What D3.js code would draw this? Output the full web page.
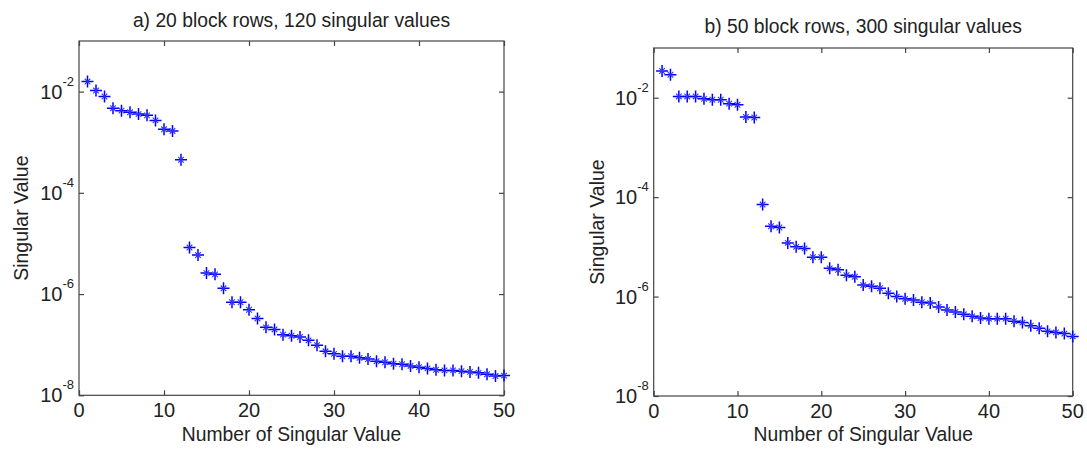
<!DOCTYPE html>
<html>
<head>
<meta charset="utf-8">
<script src="https://cdn.jsdelivr.net/npm/d3@7/dist/d3.min.js"></script>
<style>
  html, body { margin: 0; padding: 0; background: #fff; }
  svg { display: block; }
  text { font-family: "Liberation Sans", Arial, sans-serif; fill: #222; }
</style>
</head>
<body>
<svg id="chart" width="1087" height="450"></svg>
<script>
// ---- data ----
const indexValues = d3.range(1, 51);
const leftTitle = "a) 20 block rows, 120 singular values";
const rightTitle = "b) 50 block rows, 300 singular values";
const xLabel = "Number of Singular Value";
const yLabel = "Singular Value";
const xTicks = [0, 10, 20, 30, 40, 50];
const yTickExponents = [-2, -4, -6, -8];

const leftValues = [0.0158, 0.0105, 0.0080, 0.0047, 0.0042, 0.0039, 0.0036, 0.0034, 0.0027, 0.0018,
  0.00167, 0.00045, 8.3e-6, 5.9e-6, 2.6e-6, 2.45e-6, 1.3e-6, 6.9e-7, 6.9e-7, 4.9e-7,
  3.3e-7, 2.2e-7, 2.0e-7, 1.58e-7, 1.5e-7, 1.42e-7, 1.22e-7, 9.8e-8, 7.4e-8, 6.6e-8,
  5.9e-8, 5.9e-8, 5.5e-8, 5.2e-8, 4.7e-8, 4.5e-8, 4.2e-8, 4.1e-8, 3.8e-8, 3.6e-8,
  3.4e-8, 3.2e-8, 3.1e-8, 3.1e-8, 3.0e-8, 2.9e-8, 2.78e-8, 2.6e-8, 2.4e-8, 2.45e-8];

const rightValues = [0.0345, 0.029, 0.0106, 0.0106, 0.0106, 0.0095, 0.0091, 0.0091, 0.0076, 0.0072,
  0.0041, 0.0040, 7.1e-5, 2.6e-5, 2.45e-5, 1.2e-5, 1.0e-5, 9.3e-6, 6.2e-6, 6.2e-6,
  3.7e-6, 3.45e-6, 2.7e-6, 2.5e-6, 1.7e-6, 1.62e-6, 1.47e-6, 1.17e-6, 1.0e-6, 9.0e-7,
  8.5e-7, 7.7e-7, 7.4e-7, 6.2e-7, 5.4e-7, 4.9e-7, 4.4e-7, 4.0e-7, 3.7e-7, 3.6e-7,
  3.6e-7, 3.6e-7, 3.2e-7, 3.0e-7, 2.6e-7, 2.3e-7, 2.0e-7, 1.9e-7, 1.8e-7, 1.58e-7];

// ---- drawing ----
const svg = d3.select("#chart");

function panel(cfg) {
  const {left, right, top, bottom, title, titleY, values, ylabX} = cfg;
  const x = d3.scaleLinear().domain([0, 50]).range([left, right]);
  const y = d3.scaleLog().domain([1e-8, 1e-1]).range([bottom, top]);
  const g = svg.append("g");
  const axisColor = "#444";

  // frame
  g.append("rect").attr("x", left).attr("y", top)
    .attr("width", right - left).attr("height", bottom - top)
    .attr("fill", "none").attr("stroke", axisColor).attr("stroke-width", 1.2);

  const yTickVals = yTickExponents.map(e => Math.pow(10, e));

  // axes with inward ticks
  const ax = [
    {a: d3.axisBottom(x).tickValues(xTicks), t: `translate(0,${bottom})`},
    {a: d3.axisTop(x).tickValues(xTicks), t: `translate(0,${top})`},
    {a: d3.axisLeft(y).tickValues(yTickVals), t: `translate(${left},0)`},
    {a: d3.axisRight(y).tickValues(yTickVals), t: `translate(${right},0)`}
  ];
  ax.forEach(d => {
    const ag = g.append("g").attr("transform", d.t)
      .call(d.a.tickSizeInner(-5).tickSizeOuter(0).tickFormat(""));
    ag.select(".domain").remove();
    ag.selectAll("line").attr("stroke", axisColor).attr("stroke-width", 1.2);
  });

  // x tick labels
  g.selectAll(".xt").data(xTicks).enter().append("text")
    .attr("x", d => x(d)).attr("y", bottom + 22)
    .attr("text-anchor", "middle").style("font-size", "20px")
    .text(d => d);

  // y tick labels with superscripts
  yTickExponents.forEach(e => {
    const yy = y(Math.pow(10, e));
    const t = g.append("text").attr("x", left - 5).attr("y", yy + 7)
      .attr("text-anchor", "end").style("font-size", "20px");
    t.append("tspan").text("10");
    t.append("tspan").attr("dy", -13).style("font-size", "13px").text(String(e));
  });

  // title
  g.append("text").attr("x", (left + right) / 2).attr("y", titleY)
    .attr("text-anchor", "middle").style("font-size", "19.3px").text(title);

  // x label
  g.append("text").attr("x", (left + right) / 2).attr("y", 441)
    .attr("text-anchor", "middle").style("font-size", "19.3px").text(xLabel);

  // y label
  g.append("text")
    .attr("transform", `translate(${ylabX},${(top + bottom) / 2}) rotate(-90)`)
    .attr("text-anchor", "middle").style("font-size", "19.5px").text(yLabel);

  // asterisk markers: strong plus with short faint diagonals
  const pts = g.selectAll(".pt").data(values).enter().append("g")
    .attr("transform", (d, i) => `translate(${x(indexValues[i])},${y(d)})`);
  pts.append("path").attr("d", "M-6,0H6M0,-6V6")
    .attr("fill", "none").attr("stroke", "#0000ff").attr("stroke-width", 1.5);
  pts.append("path").attr("d", "M-2.8,-2.8L2.8,2.8M-2.8,2.8L2.8,-2.8")
    .attr("fill", "none").attr("stroke", "#3333ff").attr("stroke-width", 1.1);
}

panel({left: 79, right: 504, top: 41, bottom: 395.3, title: leftTitle, titleY: 27,
  values: leftValues, ylabX: 28});
panel({left: 653.7, right: 1072.7, top: 48, bottom: 396, title: rightTitle, titleY: 33,
  values: rightValues, ylabX: 604});
</script>
</body>
</html>
